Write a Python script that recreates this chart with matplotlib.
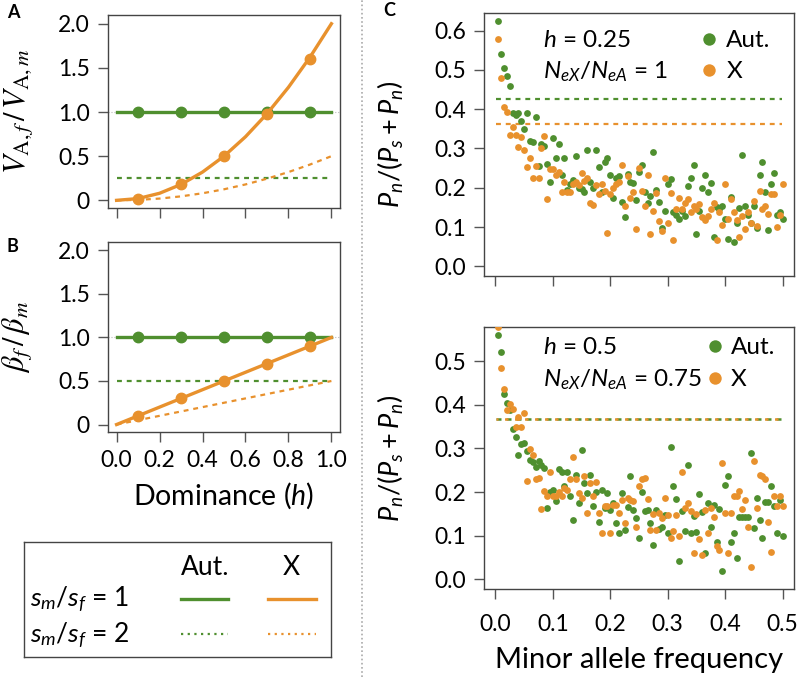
import numpy as np
import matplotlib
matplotlib.use("Agg")
import matplotlib.pyplot as plt
from matplotlib.lines import Line2D

plt.rcParams['font.family'] = ['Lato', 'DejaVu Sans']
plt.rcParams['mathtext.fontset'] = 'custom'
plt.rcParams['mathtext.rm'] = 'Lato'
plt.rcParams['mathtext.it'] = 'Lato:italic'
plt.rcParams['mathtext.sf'] = 'Lato'

GREEN = '#4F8F2F'
ORANGE = '#E8912D'
AXC = '#444444'

# ---- panels A and B: dominance curves ----
h_line = [0.0, 0.1, 0.2, 0.3, 0.4, 0.5, 0.6, 0.7, 0.8, 0.9, 1.0]
h_pts = [0.1, 0.3, 0.5, 0.7, 0.9]

va_aut_1 = [1.0] * 11
va_aut_2 = [0.25] * 11
va_x_1 = [0.0, 0.02, 0.08, 0.18, 0.32, 0.5, 0.72, 0.98, 1.28, 1.62, 2.0]
va_x_2 = [0.0, 0.005, 0.02, 0.045, 0.08, 0.125, 0.18, 0.245, 0.32, 0.405, 0.5]
va_aut_pts = [1.0, 1.0, 1.0, 1.0, 1.0]
va_x_pts = [0.02, 0.18, 0.5, 0.98, 1.6]

b_aut_1 = [1.0] * 11
b_aut_2 = [0.5] * 11
b_x_1 = [0.0, 0.1, 0.2, 0.3, 0.4, 0.5, 0.6, 0.7, 0.8, 0.9, 1.0]
b_x_2 = [0.0, 0.05, 0.1, 0.15, 0.2, 0.25, 0.3, 0.35, 0.4, 0.45, 0.5]
b_aut_pts = [1.0, 1.0, 1.0, 1.0, 1.0]
b_x_pts = [0.1, 0.3, 0.5, 0.7, 0.9]

# ---- panel C: Pn/(Ps+Pn) by minor allele frequency ----
maf = np.round(np.arange(1, 101) * 0.005, 3)

top_aut = [0.625, 0.54, 0.505, 0.485, 0.46, 0.39, 0.385, 0.39, 0.37, 0.35,
           0.39, 0.318, 0.316, 0.38, 0.256, 0.312, 0.307, 0.26, 0.215, 0.326,
           0.276, 0.312, 0.232, 0.276, 0.195, 0.21, 0.22, 0.28, 0.2, 0.196,
           0.19, 0.295, 0.215, 0.2, 0.297, 0.252, 0.19, 0.266, 0.276, 0.232,
           0.175, 0.224, 0.231, 0.164, 0.126, 0.235, 0.215, 0.213, 0.17, 0.239,
           0.258, 0.188, 0.162, 0.18, 0.292, 0.195, 0.164, 0.098, 0.14, 0.209,
           0.222, 0.137, 0.13, 0.12, 0.141, 0.128, 0.205, 0.226, 0.258, 0.081,
           0.14, 0.2, 0.232, 0.19, 0.212, 0.075, 0.15, 0.147, 0.154, 0.12,
           0.07, 0.177, 0.061, 0.109, 0.149, 0.283, 0.154, 0.13, 0.11, 0.154,
           0.098, 0.232, 0.265, 0.19, 0.092, 0.21, 0.237, 0.131, 0.137, 0.12]
top_x = [0.58, 0.48, 0.405, 0.392, 0.335, 0.354, 0.335, 0.303, 0.329, 0.297,
         0.252, 0.275, 0.226, 0.256, 0.224, 0.3, 0.331, 0.172, 0.247, 0.247,
         0.232, 0.239, 0.188, 0.215, 0.188, 0.19, 0.209, 0.215, 0.206, 0.237,
         0.218, 0.224, 0.162, 0.155, 0.206, 0.183, 0.209, 0.192, 0.084, 0.183,
         0.2, 0.21, 0.215, 0.258, 0.154, 0.23, 0.175, 0.19, 0.094, 0.249,
         0.192, 0.154, 0.232, 0.081, 0.141, 0.186, 0.115, 0.09, 0.224, 0.109,
         0.186, 0.067, 0.145, 0.175, 0.147, 0.16, 0.171, 0.137, 0.154, 0.145,
         0.158, 0.126, 0.118, 0.128, 0.145, 0.16, 0.068, 0.138, 0.104, 0.209,
         0.121, 0.171, 0.137, 0.118, 0.075, 0.128, 0.094, 0.137, 0.111, 0.166,
         0.102, 0.192, 0.147, 0.154, 0.132, 0.183, 0.183, 0.101, 0.13, 0.209]
bot_aut = [0.559, 0.52, 0.425, 0.405, 0.387, 0.344, 0.327, 0.285, 0.31, 0.313,
           0.293, 0.274, 0.268, 0.258, 0.27, 0.262, 0.255, 0.163, 0.2, 0.205,
           0.18, 0.252, 0.247, 0.213, 0.245, 0.19, 0.136, 0.239, 0.176, 0.297,
           0.22, 0.197, 0.239, 0.167, 0.2, 0.132, 0.205, 0.163, 0.197, 0.159,
           0.175, 0.13, 0.106, 0.197, 0.112, 0.165, 0.237, 0.159, 0.14, 0.094,
           0.199, 0.157, 0.16, 0.128, 0.079, 0.159, 0.115, 0.12, 0.148, 0.106,
           0.303, 0.213, 0.183, 0.043, 0.157, 0.11, 0.262, 0.107, 0.145, 0.109,
           0.196, 0.155, 0.061, 0.176, 0.121, 0.17, 0.086, 0.161, 0.02, 0.216,
           0.237, 0.086, 0.106, 0.048, 0.144, 0.144, 0.144, 0.144, 0.289, 0.117,
           0.186, 0.136, 0.094, 0.178, 0.178, 0.214, 0.167, 0.106, 0.182, 0.099]
bot_x = [0.578, 0.484, 0.436, 0.387, 0.402, 0.39, 0.349, 0.372, 0.349, 0.382,
         0.226, 0.298, 0.285, 0.229, 0.232, 0.161, 0.203, 0.191, 0.247, 0.191,
         0.191, 0.2, 0.191, 0.21, 0.205, 0.231, 0.28, 0.23, 0.197, 0.186,
         0.237, 0.151, 0.22, 0.19, 0.222, 0.151, 0.106, 0.167, 0.167, 0.106,
         0.17, 0.17, 0.151, 0.182, 0.128, 0.186, 0.182, 0.18, 0.121, 0.213,
         0.229, 0.232, 0.183, 0.112, 0.15, 0.113, 0.151, 0.14, 0.186, 0.148,
         0.094, 0.11, 0.148, 0.099, 0.245, 0.163, 0.176, 0.157, 0.06, 0.15,
         0.093, 0.056, 0.159, 0.106, 0.163, 0.142, 0.076, 0.067, 0.266, 0.151,
         0.06, 0.153, 0.191, 0.19, 0.203, 0.161, 0.182, 0.121, 0.028, 0.272,
         0.163, 0.239, 0.237, 0.229, 0.132, 0.063, 0.19, 0.167, 0.19, 0.167]

top_ref_aut = 0.425
top_ref_x = 0.363
bot_ref_aut = 0.367
bot_ref_x = 0.367

DASH = (0, (2.2, 2.2))


def style_axes(ax):
    for s in ax.spines.values():
        s.set_color(AXC)
        s.set_linewidth(1.0)
    ax.tick_params(direction='out', length=7, width=1, color='#555555',
                   labelsize=16.5, pad=6)


fig = plt.figure(figsize=(8, 6.77), dpi=100)

# Panel A
axA = fig.add_axes([0.135, 0.693, 0.29, 0.285])
axA.axhline(1.0, color='#bbbbbb', lw=0.8, ls=':', zorder=1)
axA.plot(h_line, va_aut_2, color=GREEN, lw=1.6, ls=DASH)
axA.plot(h_line, va_x_2, color=ORANGE, lw=1.6, ls=DASH)
axA.plot(h_line, va_aut_1, color=GREEN, lw=2.4)
axA.plot(h_pts, va_aut_pts, 'o', color=GREEN, ms=7.5)
axA.plot(h_line, va_x_1, color=ORANGE, lw=2.4)
axA.plot(h_pts, va_x_pts, 'o', color=ORANGE, ms=7.5)
axA.set_xlim(-0.04, 1.04)
axA.set_ylim(-0.085, 2.1)
axA.set_xticks([0, 0.2, 0.4, 0.6, 0.8, 1.0])
axA.set_xticklabels([])
axA.set_yticks([0, 0.5, 1.0, 1.5, 2.0])
axA.set_yticklabels(['0', '0.5', '1.0', '1.5', '2.0'])
style_axes(axA)
axA.set_ylabel(r'$V_{\mathrm{A},f}\,/\,V_{\mathrm{A},m}$', fontsize=22,
               math_fontfamily='stix')
axA.yaxis.set_label_coords(-0.315, 0.5)

# Panel B
axB = fig.add_axes([0.135, 0.362, 0.29, 0.281])
axB.axhline(1.0, color='#bbbbbb', lw=0.8, ls=':', zorder=1)
axB.plot(h_line, b_aut_2, color=GREEN, lw=1.6, ls=DASH)
axB.plot(h_line, b_x_2, color=ORANGE, lw=1.6, ls=DASH)
axB.plot(h_line, b_aut_1, color=GREEN, lw=2.4)
axB.plot(h_pts, b_aut_pts, 'o', color=GREEN, ms=7.5)
axB.plot(h_line, b_x_1, color=ORANGE, lw=2.4)
axB.plot(h_pts, b_x_pts, 'o', color=ORANGE, ms=7.5)
axB.set_xlim(-0.04, 1.04)
axB.set_ylim(-0.085, 2.1)
axB.set_xticks([0, 0.2, 0.4, 0.6, 0.8, 1.0])
axB.set_xticklabels(['0.0', '0.2', '0.4', '0.6', '0.8', '1.0'])
axB.set_yticks([0, 0.5, 1.0, 1.5, 2.0])
axB.set_yticklabels(['0', '0.5', '1.0', '1.5', '2.0'])
style_axes(axB)
axB.set_ylabel(r'$\beta_f\,/\,\beta_m$', fontsize=22, math_fontfamily='stix')
axB.yaxis.set_label_coords(-0.315, 0.5)
axB.set_xlabel(r'Dominance ($h$)', fontsize=20.5, labelpad=7)

# legend box for panels A/B
axL = fig.add_axes([0.03, 0.0295, 0.384, 0.17])
axL.set_xlim(0, 1)
axL.set_ylim(0, 1)
axL.set_xticks([])
axL.set_yticks([])
for s in axL.spines.values():
    s.set_color(AXC)
    s.set_linewidth(1.0)
axL.text(0.59, 0.78, 'Aut.', fontsize=19, ha='center', va='center')
axL.text(0.87, 0.78, 'X', fontsize=19, ha='center', va='center')
axL.text(0.02, 0.5, r'$s_m/s_f$ = 1', fontsize=19, ha='left', va='center')
axL.text(0.02, 0.19, r'$s_m/s_f$ = 2', fontsize=19, ha='left', va='center')
axL.plot([0.51, 0.665], [0.5, 0.5], color=GREEN, lw=2.4)
axL.plot([0.795, 0.95], [0.5, 0.5], color=ORANGE, lw=2.4)
axL.plot([0.51, 0.665], [0.2, 0.2], color=GREEN, lw=1.6, ls=(0, (1, 2)))
axL.plot([0.795, 0.95], [0.2, 0.2], color=ORANGE, lw=1.6, ls=(0, (1, 2)))

# Panel C top
axC1 = fig.add_axes([0.605, 0.5923, 0.3875, 0.3885])
axC1.axhline(top_ref_aut, color=GREEN, lw=1.6, ls=DASH, xmin=0.04, xmax=0.96)
axC1.axhline(top_ref_x, color=ORANGE, lw=1.6, ls=DASH, xmin=0.04, xmax=0.96)
axC1.scatter(maf, top_aut, s=24, color=GREEN, lw=0, zorder=3)
axC1.scatter(maf, top_x, s=24, color=ORANGE, lw=0, zorder=3)
axC1.set_xlim(-0.02, 0.52)
axC1.set_ylim(-0.0248, 0.645)
axC1.set_xticks([0, 0.1, 0.2, 0.3, 0.4, 0.5])
axC1.set_xticklabels([])
axC1.set_yticks([0, 0.1, 0.2, 0.3, 0.4, 0.5, 0.6])
axC1.set_yticklabels(['0.0', '0.1', '0.2', '0.3', '0.4', '0.5', '0.6'])
style_axes(axC1)
axC1.set_ylabel(r'$P_n/(P_s + P_n)$', fontsize=19.5)
axC1.yaxis.set_label_coords(-0.25, 0.5)
axC1.text(0.082, 0.575, r'$h$ = 0.25', fontsize=17.5, va='center')
axC1.text(0.082, 0.495, r'$N_{eX}/N_{eA}$ = 1', fontsize=17.5, va='center')
axC1.scatter([0.372], [0.58], s=80, color=GREEN, lw=0)
axC1.scatter([0.372], [0.5], s=80, color=ORANGE, lw=0)
axC1.text(0.402, 0.575, 'Aut.', fontsize=17.5, va='center')
axC1.text(0.402, 0.495, 'X', fontsize=17.5, va='center')

# Panel C bottom
axC2 = fig.add_axes([0.605, 0.13, 0.3875, 0.387])
axC2.axhline(bot_ref_aut, color=GREEN, lw=1.8, ls=(0, (2, 2)),
             xmin=0.04, xmax=0.96)
axC2.axhline(bot_ref_x, color=ORANGE, lw=1.8, ls=(0.6, (1.4, 2.6)),
             xmin=0.04, xmax=0.96)
axC2.scatter(maf, bot_aut, s=24, color=GREEN, lw=0, zorder=3)
axC2.scatter(maf, bot_x, s=24, color=ORANGE, lw=0, zorder=3)
axC2.set_xlim(-0.02, 0.52)
axC2.set_ylim(-0.022, 0.578)
axC2.set_xticks([0, 0.1, 0.2, 0.3, 0.4, 0.5])
axC2.set_xticklabels(['0.0', '0.1', '0.2', '0.3', '0.4', '0.5'])
axC2.set_yticks([0, 0.1, 0.2, 0.3, 0.4, 0.5])
axC2.set_yticklabels(['0.0', '0.1', '0.2', '0.3', '0.4', '0.5'])
style_axes(axC2)
axC2.tick_params(axis='x', pad=11)
axC2.set_ylabel(r'$P_n/(P_s + P_n)$', fontsize=19.5)
axC2.yaxis.set_label_coords(-0.25, 0.5)
axC2.set_xlabel('Minor allele frequency', fontsize=21, labelpad=9)
axC2.text(0.082, 0.53, r'$h$ = 0.5', fontsize=17.5, va='center')
axC2.text(0.082, 0.457, r'$N_{eX}/N_{eA}$ = 0.75', fontsize=17.5, va='center')
axC2.scatter([0.382], [0.535], s=80, color=GREEN, lw=0)
axC2.scatter([0.382], [0.462], s=80, color=ORANGE, lw=0)
axC2.text(0.41, 0.53, 'Aut.', fontsize=17.5, va='center')
axC2.text(0.41, 0.457, 'X', fontsize=17.5, va='center')

# panel letters and separator
fig.text(7 / 800, 1 - 12 / 677, 'A', fontsize=13, fontweight='bold', va='center')
fig.text(7 / 800, 1 - 246 / 677, 'B', fontsize=13, fontweight='bold', va='center')
fig.text(383 / 800, 1 - 11 / 677, 'C', fontsize=13, fontweight='bold', va='center')
fig.add_artist(Line2D([362 / 800, 362 / 800], [0, 1], transform=fig.transFigure,
                      color='#aaaaaa', lw=1.2, ls=(0, (1, 1.5))))

fig.savefig('out.png', dpi=100)
